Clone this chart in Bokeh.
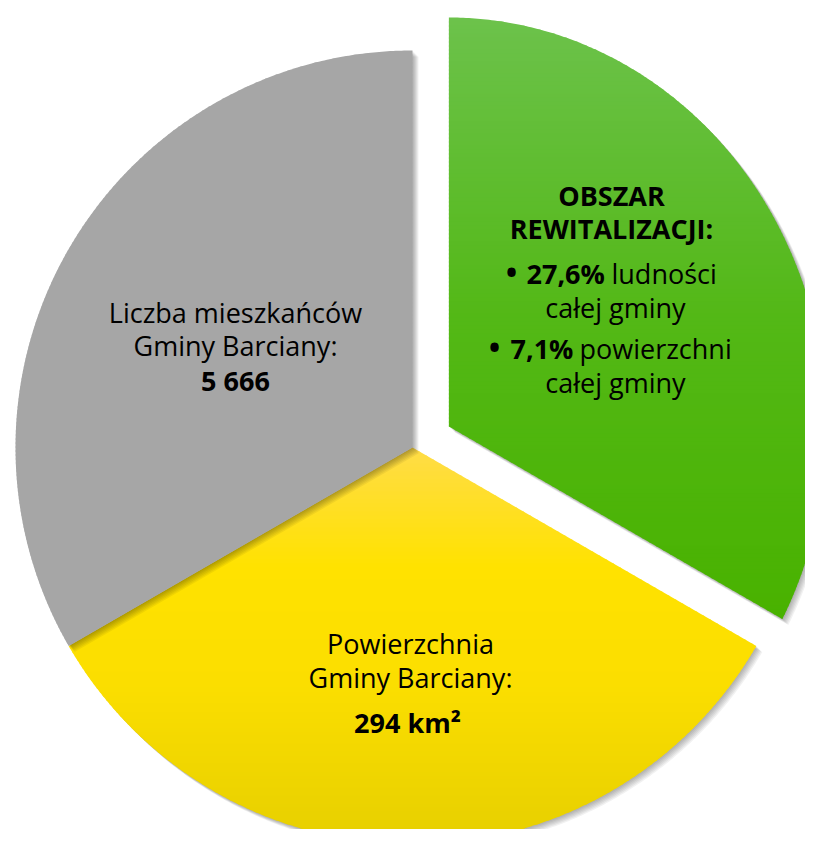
import numpy as np
from bokeh.plotting import figure
from bokeh.models import Range1d
from bokeh.embed import file_html
from bokeh.resources import INLINE
from bokeh.core.properties import value

# ---------------- data ----------------
slice_names = ["Obszar rewitalizacji", "Powierzchnia Gminy Barciany", "Liczba mieszkańców Gminy Barciany"]
slice_shares = [1, 1, 1]          # three equal slices as drawn
slice_exploded = [True, False, False]

gray_lines = ["Liczba mieszkańców", "Gminy Barciany:", "5 666"]
yellow_lines = ["Powierzchnia", "Gminy Barciany:", "294 km²"]
green_title = ["OBSZAR", "REWITALIZACJI:"]
green_bold = ["27,6%", "7,1%"]
green_rest = ["ludności", "powierzchni"]
green_tail = ["całej gminy", "całej gminy"]

# ---------------- styles ----------------
gradients = [
    [(0.0, "#6cc24b"), (0.5, "#53b816"), (1.0, "#49b200")],                      # green
    [(0.0, "#ffdc48"), (0.3, "#ffe200"), (0.6, "#fbde00"), (1.0, "#e6cf00")],   # yellow
    [(0.0, "#a6a6a6"), (1.0, "#a6a6a6")],                                       # gray
]
FONT = value("Open Sans")
FS = "27px"

H = 845  # helper: plot y = H - page y
CX, CY, R = 412, H - 447, 397
EXPLODE = 42
ERX, ERY = 378, 409  # exploded slice is slightly elliptical in the original

p = figure(width=805, height=829, x_range=Range1d(0, 805), y_range=Range1d(16, 845),
           x_axis_location=None, y_axis_location=None, toolbar_location=None,
           output_backend="svg", min_border=0, outline_line_color=None,
           background_fill_color="white", border_fill_color="white")
p.xgrid.visible = False
p.ygrid.visible = False


def hex2rgb(h):
    h = h.lstrip("#")
    return np.array([int(h[i:i + 2], 16) for i in (0, 2, 4)], dtype=float)


def grad_color(stops, t):
    t = min(max(t, 0.0), 1.0)
    for (t0, c0), (t1, c1) in zip(stops[:-1], stops[1:]):
        if t <= t1:
            f = 0 if t1 == t0 else (t - t0) / (t1 - t0)
            c = hex2rgb(c0) * (1 - f) + hex2rgb(c1) * f
            return "#%02x%02x%02x" % tuple(int(round(v)) for v in c)
    return stops[-1][1]


def slice_polygon(cx, cy, rx, ry, a0, a1, n=300):
    th = np.radians(np.linspace(a0, a1, n))
    d = 1.0 / np.sqrt((np.cos(th) / rx) ** 2 + (np.sin(th) / ry) ** 2)
    xs = np.concatenate([[cx], cx + d * np.cos(th)])
    ys = np.concatenate([[cy], cy + d * np.sin(th)])
    return xs, ys


def clip_half(pts, keep, inter):
    out = []
    for i in range(len(pts)):
        cur, prev = pts[i], pts[i - 1]
        ci, pi = keep(cur), keep(prev)
        if ci:
            if not pi:
                out.append(inter(prev, cur))
            out.append(cur)
        elif pi:
            out.append(inter(prev, cur))
    return out


def clip_band(xs, ys, lo, hi):
    pts = list(zip(xs, ys))

    def ix(a, b, yv):
        t = (yv - a[1]) / (b[1] - a[1])
        return (a[0] + t * (b[0] - a[0]), yv)

    pts = clip_half(pts, lambda q: q[1] >= lo, lambda a, b: ix(a, b, lo))
    if len(pts) < 3:
        return None
    pts = clip_half(pts, lambda q: q[1] <= hi, lambda a, b: ix(a, b, hi))
    if len(pts) < 3:
        return None
    return [q[0] for q in pts], [q[1] for q in pts]


total = float(sum(slice_shares))
start = 90.0
for share, expl, stops in zip(slice_shares, slice_exploded, gradients):
    sweep = 360.0 * share / total
    a0, a1 = start, start - sweep
    mid = np.radians((a0 + a1) / 2)
    if expl:
        cx, cy = CX + EXPLODE * np.cos(mid), CY + EXPLODE * np.sin(mid)
        rx, ry = ERX, ERY
    else:
        cx, cy = CX, CY
        rx, ry = R, R
    xs, ys = slice_polygon(cx, cy, rx, ry, a0, a1)

    # soft shadow (down-right)
    sh_x, sh_y = [], []
    for k in range(1, 7):
        sh_x.append(list(xs + k))
        sh_y.append(list(ys - k))
    p.patches(sh_x, sh_y, fill_color="#000000", fill_alpha=0.055, line_color=None)

    # vertical gradient via overlapping horizontal bands (top to bottom)
    ymin, ymax = ys.min(), ys.max()
    bx, by, bc = [], [], []
    step = 4.0
    top = ymax
    while top > ymin:
        lo = top - step
        clipped = clip_band(xs, ys, lo - 1.0, top)
        if clipped is not None:
            bx.append(clipped[0])
            by.append(clipped[1])
            bc.append(grad_color(stops, (ymax - (top - step / 2)) / (ymax - ymin)))
        top = lo
    p.patches(bx, by, fill_color=bc, line_color=None)

    start = a1

# ---------------- texts ----------------
def txt(x, y, s, bold=False, align="center", size=FS):
    p.text(x=x, y=y, text=s, text_font=FONT, text_font_size=size,
           text_font_style="bold" if bold else "normal", text_align=align,
           text_baseline="alphabetic", text_color="#000000")

# gray slice
txt([235, 235], [H - 312, H - 345], gray_lines[:2])
txt([235], [H - 380], gray_lines[2:], bold=True)

# yellow slice
txt([410, 410], [H - 643, H - 677], yellow_lines[:2])
txt([407], [H - 722], yellow_lines[2:], bold=True)

# green slice
txt([611, 611], [H - 195, H - 228], green_title, bold=True)
txt([511, 494], [H - 271, H - 346], ["•", "•"], size="40px")
txt([526, 510], [H - 273, H - 348], green_bold, bold=True, align="left")
txt([611, 579], [H - 273, H - 348], green_rest, align="left")
txt([615, 615], [H - 307, H - 382], green_tail)

open("out.html", "w").write(file_html(p, INLINE))
